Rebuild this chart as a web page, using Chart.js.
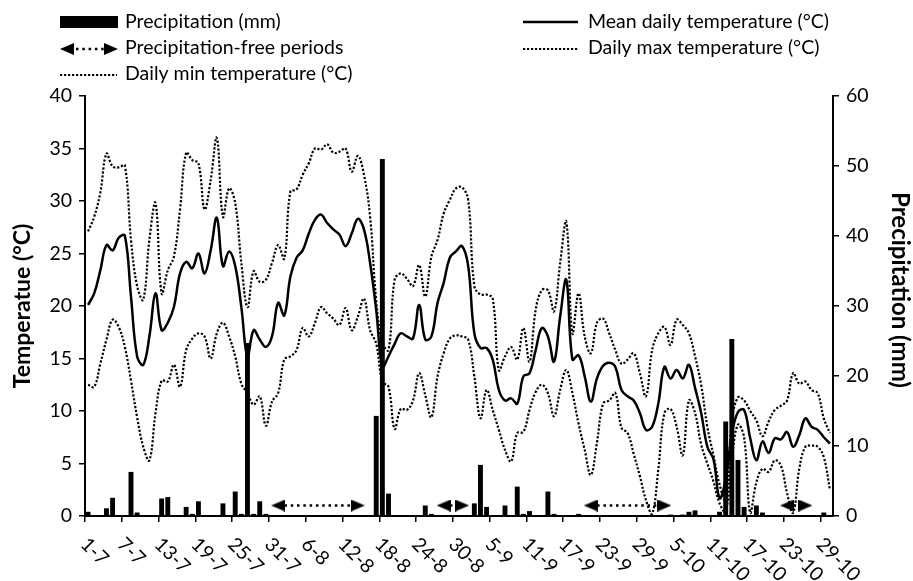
<!DOCTYPE html>
<html>
<head>
<meta charset="utf-8">
<script src="https://cdn.jsdelivr.net/npm/chart.js@4.4.1/dist/chart.umd.min.js"></script>
<style>
  html, body { margin: 0; padding: 0; background: #fff; }
  #wrap { position: relative; width: 913px; height: 581px; }
</style>
</head>
<body>
<div id="wrap"><canvas id="chart"></canvas></div>
<script>
    // days 1-7 .. 30-10
    const dates = [
        '1-7','2-7','3-7','4-7','5-7','6-7','7-7','8-7','9-7','10-7','11-7','12-7','13-7','14-7','15-7','16-7',
        '17-7','18-7','19-7','20-7','21-7','22-7','23-7','24-7','25-7','26-7','27-7','28-7','29-7','30-7','31-7',
        '1-8','2-8','3-8','4-8','5-8','6-8','7-8','8-8','9-8','10-8','11-8','12-8','13-8','14-8','15-8','16-8',
        '17-8','18-8','19-8','20-8','21-8','22-8','23-8','24-8','25-8','26-8','27-8','28-8','29-8','30-8','31-8',
        '1-9','2-9','3-9','4-9','5-9','6-9','7-9','8-9','9-9','10-9','11-9','12-9','13-9','14-9','15-9',
        '16-9','17-9','18-9','19-9','20-9','21-9','22-9','23-9','24-9','25-9','26-9','27-9','28-9','29-9','30-9',
        '1-10','2-10','3-10','4-10','5-10','6-10','7-10','8-10','9-10','10-10','11-10','12-10','13-10','14-10','15-10',
        '16-10','17-10','18-10','19-10','20-10','21-10','22-10','23-10','24-10','25-10','26-10','27-10','28-10','29-10','30-10'
    ];
    const labelEvery = 6;

    const precip = [
        0.6, 0, 0, 1.1, 2.6, 0, 0, 6.3, 0.5, 0,
        0, 0, 2.5, 2.7, 0, 0, 1.3, 0.3, 2.1, 0,
        0, 0, 1.8, 0, 3.5, 0.3, 24.7, 0.3, 2.1, 0.3,
        0, 0, 0, 0, 0, 0, 0, 0, 0, 0,
        0, 0, 0, 0, 0, 0, 0, 14.3, 51.0, 3.2,
        0, 0, 0, 0, 0, 1.5, 0.3, 0, 0, 0,
        0, 0, 0, 1.8, 7.3, 1.3, 0, 0, 1.5, 0,
        4.2, 0.3, 0.7, 0, 0, 3.5, 0.3, 0, 0, 0,
        0.3, 0, 0, 0, 0, 0, 0, 0, 0, 0,
        0, 0, 0, 0, 0, 0.2, 0, 0.2, 0.6, 0.8,
        0, 0, 0, 0.6, 13.5, 25.3, 8.0, 1.3, 0, 1.5,
        0.5, 0, 0, 0, 0, 0, 0, 0, 0, 0,
        0.5, 0
    ];

    const meanTemp = [
        20.1, 21.2, 23.4, 25.8, 25.3, 26.5, 26.7, 20.9, 15.2, 14.4,
        17.1, 21.2, 17.7, 18.4, 19.9, 23.1, 24.2, 23.6, 25.0, 23.1,
        25.3, 28.4, 23.8, 25.2, 23.8, 19.9, 15.2, 17.7, 16.8, 16.1,
        17.1, 20.3, 19.1, 22.8, 24.6, 25.3, 26.9, 28.2, 28.7, 27.9,
        27.3, 26.8, 25.7, 26.9, 28.3, 27.3, 24.1, 19.6, 14.2, 15.2,
        16.4, 17.4, 17.1, 16.9, 20.1, 16.8, 17.1, 20.3, 22.2, 24.6,
        25.2, 25.7, 23.8, 17.4, 16.0, 16.0, 14.9, 12.0, 11.0, 11.2,
        10.7, 13.3, 13.6, 15.8, 17.9, 17.1, 14.7, 19.0, 22.5, 14.9,
        15.3, 13.3, 10.9, 13.1, 14.3, 14.6, 14.2, 12.0, 11.4, 11.0,
        9.8, 8.2, 8.5, 10.7, 14.2, 13.1, 13.9, 13.1, 14.4, 12.2,
        9.8, 6.6, 5.4, 1.7, 3.5, 7.8, 9.9, 10.1, 7.4, 5.3,
        7.1, 6.0, 7.4, 7.3, 8.0, 6.6, 7.7, 9.3, 8.5, 8.2,
        7.5, 6.9
    ];

    const maxTemp = [
        27.1, 28.5, 30.8, 34.5, 33.3, 33.2, 33.4, 26.3, 21.9, 20.6,
        26.3, 29.8, 21.2, 23.4, 24.7, 29.2, 34.6, 33.9, 33.6, 29.2,
        32.0, 36.0, 28.5, 31.2, 29.8, 24.1, 19.9, 23.3, 22.3, 22.5,
        24.1, 25.8, 24.5, 30.9, 31.1, 32.5, 33.6, 35.0, 34.9, 35.4,
        34.6, 34.7, 35.0, 32.8, 34.3, 32.5, 28.5, 20.5, 16.5, 15.8,
        22.5, 23.1, 22.6, 21.9, 23.9, 20.9, 24.7, 26.3, 28.8, 30.1,
        31.2, 31.3, 30.1, 21.9, 21.1, 21.1, 20.7, 13.9, 15.2, 16.1,
        14.9, 17.9, 14.7, 19.6, 21.5, 21.5, 19.5, 24.1, 28.0, 17.4,
        21.2, 17.1, 15.5, 18.4, 18.8, 17.4, 15.8, 14.5, 14.9, 15.5,
        13.6, 11.4, 15.8, 17.4, 18.0, 16.3, 18.7, 18.2, 17.4, 15.2,
        12.5, 8.5, 5.8, 3.0, 1.5, 9.0, 11.3, 11.0, 10.0, 9.1,
        7.6, 9.0, 10.1, 10.5, 11.0, 13.6, 12.6, 12.8, 12.0, 11.7,
        9.3, 7.9
    ];

    const minTemp = [
        12.5, 12.3, 14.5, 16.8, 18.7, 18.0, 16.1, 12.9, 9.4, 6.6,
        5.3, 9.8, 12.9, 12.8, 14.4, 12.3, 15.8, 16.9, 17.4, 17.1,
        15.0, 17.4, 18.4, 17.1, 15.2, 12.6, 11.7, 10.6, 11.4, 8.6,
        10.9, 11.7, 14.9, 15.2, 15.8, 17.9, 17.1, 18.4, 19.9, 19.3,
        18.8, 18.2, 19.8, 17.7, 19.0, 20.7, 17.7, 16.4, 12.8, 12.3,
        8.3, 10.2, 10.1, 11.0, 13.6, 11.5, 9.4, 13.3, 15.5, 16.9,
        17.2, 17.1, 16.8, 13.3, 9.3, 12.0, 10.1, 8.2, 6.3, 5.2,
        7.9, 8.0, 10.1, 11.8, 12.5, 11.7, 9.5, 12.0, 13.9, 11.7,
        8.8, 6.3, 3.9, 7.0, 10.7, 11.0, 11.7, 8.4, 7.9, 5.9,
        3.8, 1.5, 0.2, 4.4, 9.8, 10.2, 8.5, 5.8, 11.0, 9.8,
        6.8, 5.0, 3.3, 1.2, 0.4, 5.5, 8.7, 7.5, 0.3, 3.2,
        4.5, 4.2, 5.3, 4.8, 2.2, 0.3, 4.5, 6.6, 6.7, 6.6,
        5.6, 2.5
    ];

    // precipitation-free periods: first and last day index of each arrow
    const dryPeriods = [[31, 44], [58, 61], [82, 94], [114, 117]];
    const dryLevel = 1.5; // mm, on the right axis

    const FONT = 'Lato';

    // arrow head used as point style (points right)
    const arrowHead = document.createElement('canvas');
    arrowHead.width = 14;
    arrowHead.height = 12;
    (function () {
        const c = arrowHead.getContext('2d');
        c.fillStyle = '#000';
        c.beginPath();
        c.moveTo(0, 0);
        c.lineTo(14, 6);
        c.lineTo(0, 12);
        c.closePath();
        c.fill();
    })();

    let dryData = dates.map(() => null);
    let dryRadius = dates.map(() => 0);
    let dryRotation = dates.map(() => 0);
    dryPeriods.forEach(([a, b]) => {
        for (let i = a; i <= b; i++) dryData[i] = dryLevel;
        dryRadius[a] = 7; dryRotation[a] = 180;
        dryRadius[b] = 7; dryRotation[b] = 0;
    });

    const extras = {
        id: 'extras',
        afterDraw(chart) {
            const ctx = chart.ctx;
            const x = chart.scales.x;
            const half = (x.getPixelForValue(1) - x.getPixelForValue(0)) / 2;
            ctx.save();
            ctx.fillStyle = '#000';
            ctx.strokeStyle = '#000';

            // rotated date labels
            ctx.font = '19.5px ' + FONT;
            ctx.textAlign = 'left';
            ctx.textBaseline = 'middle';
            for (let i = 0; i < dates.length; i += labelEvery) {
                const px = x.getPixelForValue(i) - half;
                ctx.save();
                ctx.translate(px - 1, x.top + 25);
                ctx.rotate(Math.PI / 4);
                ctx.fillText(dates[i], 0, 0);
                ctx.restore();
            }

            // right axis title
            ctx.save();
            ctx.font = 'bold 24px ' + FONT;
            ctx.textAlign = 'center';
            ctx.textBaseline = 'middle';
            ctx.translate(900, 290);
            ctx.rotate(Math.PI / 2);
            ctx.fillText('Precipitation (mm)', 0, 0);
            ctx.restore();

            // legend
            ctx.font = '19.5px ' + FONT;
            ctx.textBaseline = 'alphabetic';
            ctx.textAlign = 'left';
            const ds = chart.data.datasets;
            // precipitation box
            ctx.fillRect(60, 16, 58, 12);
            ctx.fillText(ds[0].label, 125, 28);
            // arrow
            ctx.save();
            ctx.translate(67, 49); ctx.rotate(Math.PI);
            ctx.drawImage(arrowHead, -7, -6);
            ctx.restore();
            ctx.drawImage(arrowHead, 104, 43);
            ctx.lineWidth = 2.5;
            ctx.setLineDash([2.5, 3.8]);
            ctx.beginPath(); ctx.moveTo(76, 49); ctx.lineTo(104, 49); ctx.stroke();
            ctx.fillText(ds[1].label, 125, 54);
            // min dotted
            ctx.lineWidth = 2.2;
            ctx.setLineDash([2.2, 1.8]);
            ctx.beginPath(); ctx.moveTo(60, 75); ctx.lineTo(117, 75); ctx.stroke();
            ctx.fillText(ds[4].label, 125, 80);
            // max dotted
            ctx.beginPath(); ctx.moveTo(523, 49); ctx.lineTo(578, 49); ctx.stroke();
            ctx.fillText(ds[3].label, 588, 54);
            // mean solid
            ctx.setLineDash([]);
            ctx.lineWidth = 2.5;
            ctx.beginPath(); ctx.moveTo(523, 22); ctx.lineTo(578, 22); ctx.stroke();
            ctx.fillText(ds[2].label, 588, 28);
            ctx.restore();
        }
    };

    const tickFont = { family: FONT, size: 19.5 };

    new Chart(document.getElementById('chart'), {
        type: 'bar',
        data: {
            labels: dates,
            datasets: [
                {
                    type: 'bar', label: 'Precipitation (mm)', data: precip, yAxisID: 'y2',
                    backgroundColor: '#000', barPercentage: 0.8, categoryPercentage: 1.0, order: 0
                },
                {
                    type: 'line', label: 'Precipitation-free periods', data: dryData, yAxisID: 'y2',
                    borderColor: '#000', borderWidth: 2.5, borderDash: [2.5, 3.8], spanGaps: false,
                    pointStyle: arrowHead, pointRadius: dryRadius, pointRotation: dryRotation,
                    pointHoverRadius: 0, order: 1
                },
                {
                    type: 'line', label: 'Mean daily temperature (°C)', data: meanTemp, yAxisID: 'y',
                    borderColor: '#000', borderWidth: 2.5, tension: 0.4, pointRadius: 0, order: 2
                },
                {
                    type: 'line', label: 'Daily max temperature (°C)', data: maxTemp, yAxisID: 'y',
                    borderColor: '#000', borderWidth: 2.2, borderDash: [2.2, 1.8], tension: 0.4, pointRadius: 0, order: 3
                },
                {
                    type: 'line', label: 'Daily min temperature (°C)', data: minTemp, yAxisID: 'y',
                    borderColor: '#000', borderWidth: 2.2, borderDash: [2.2, 1.8], tension: 0.4, pointRadius: 0, order: 4
                }
            ]
        },
        options: {
            responsive: true,
            maintainAspectRatio: false,
            animation: false,
            layout: { padding: { top: 96, left: 0, right: 0, bottom: 0 } },
            plugins: { legend: { display: false }, tooltip: { enabled: false } },
            scales: {
                x: {
                    offset: true,
                    grid: {
                        offset: true, drawOnChartArea: false, tickLength: 6, lineWidth: 1.5,
                        color: (c) => (c.index % labelEvery === 0 ? '#000' : 'rgba(0,0,0,0)')
                    },
                    border: { color: '#000', width: 2 },
                    ticks: { display: false, autoSkip: false },
                    afterFit: (s) => { s.height = 65; }
                },
                y: {
                    position: 'left', min: 0, max: 40,
                    ticks: { stepSize: 5, color: '#000', font: tickFont, padding: 7 },
                    grid: { drawOnChartArea: false, tickLength: 6, color: '#000', lineWidth: 1.5 },
                    border: { color: '#000', width: 2 },
                    title: {
                        display: true, text: 'Temperatue (°C)', color: '#000',
                        font: { family: FONT, size: 23, weight: 'bold' }, padding: { top: 9, bottom: 0 }
                    },
                    afterFit: (s) => { s.width = 85; }
                },
                y2: {
                    position: 'right', min: 0, max: 60,
                    ticks: { stepSize: 10, color: '#000', font: tickFont, padding: 7 },
                    grid: { drawOnChartArea: false, tickLength: 6, color: '#000', lineWidth: 1.5 },
                    border: { color: '#000', width: 2 },
                    afterFit: (s) => { s.width = 80; }
                }
            }
        },
        plugins: [extras]
    });
</script>
</body>
</html>
